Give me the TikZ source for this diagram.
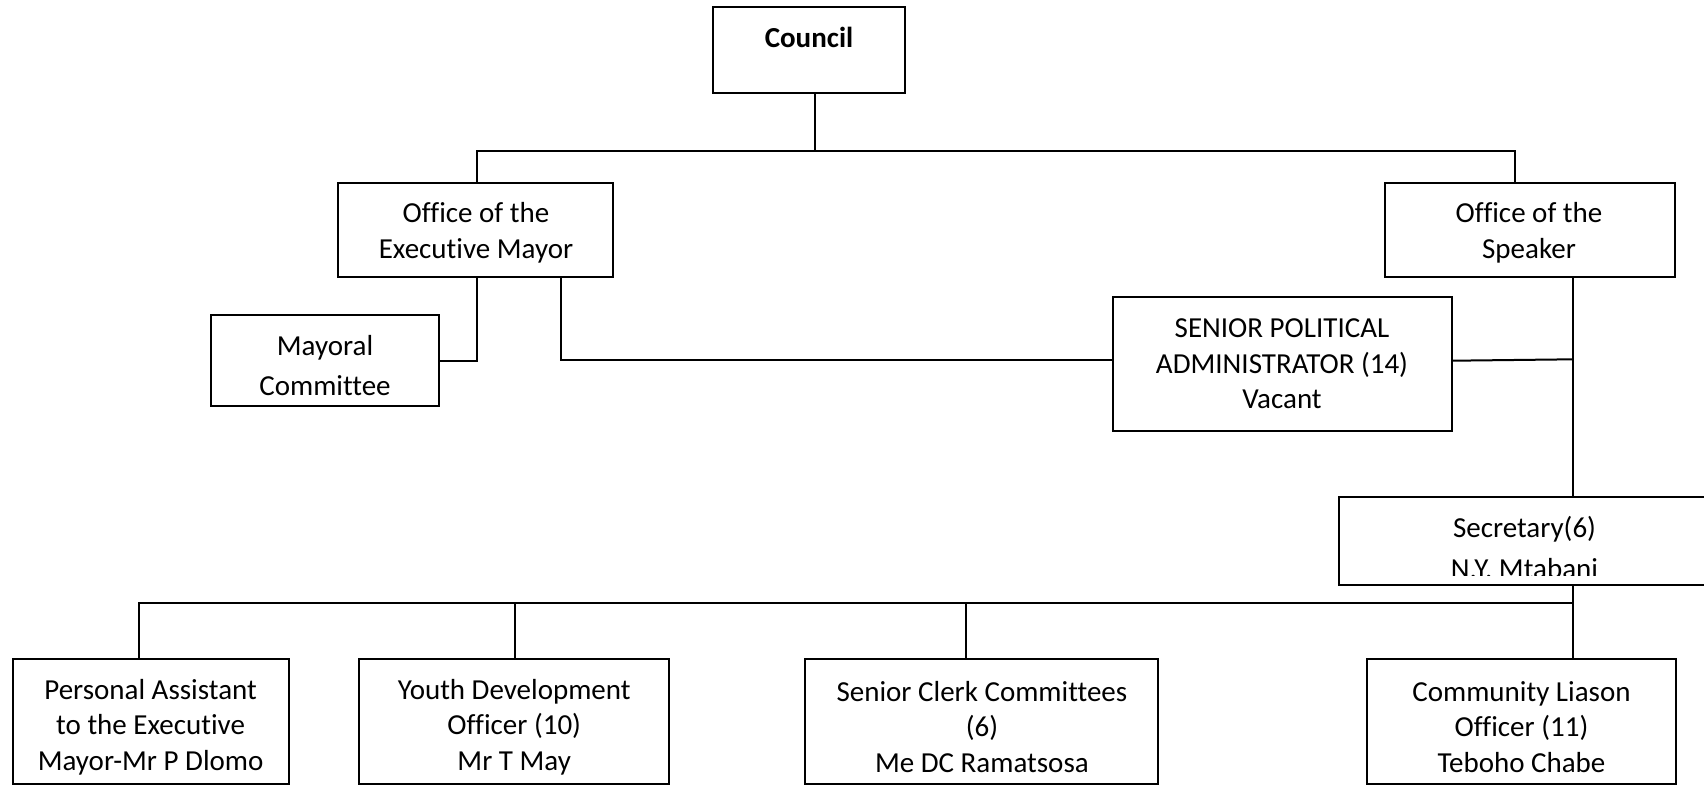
\documentclass[tikz,border=0pt]{standalone}
\usepackage{fontspec}
\setmainfont{Carlito}[Ligatures={NoCommon}]
\usetikzlibrary{calc}
\tikzset{
  box/.style={draw, line width=2pt, fill=white, inner sep=0pt, minimum width=#1},
  txt/.style={inner sep=0pt, align=center, font=\fontsize{29}{35.5}\selectfont},
  link/.style={line width=2pt}
}
\begin{document}
\begin{tikzpicture}[x=1pt, y=-1pt]
  \fill[white] (0,0) rectangle (1704,785);
  \useasboundingbox (0,0) rectangle (1704,785);

  % boxes
  \node[box=192.6, minimum height=86]    (council)   at (809,49.7) {};
  \node[box=275,   minimum height=94]    (mayor)     at (475.8,229.7) {};
  \node[box=290.3, minimum height=94]    (speaker)   at (1530.2,229.7) {};
  \node[box=228.6, minimum height=90.7]  (mayoral)   at (325,360.3) {};
  \node[box=339,   minimum height=134.7] (spa)       at (1282.3,364) {};
  \node[box=371,   minimum height=88]    (secretary) at (1524.5,541) {};
  \node[box=275.8, minimum height=124.7] (pa)        at (150.6,721.6) {};
  \node[box=310.4, minimum height=124.7] (youth)     at (514.2,721.6) {};
  \node[box=353.1, minimum height=124.7] (clerk)     at (981.9,721.6) {};
  \node[box=308.4, minimum height=124.7] (community) at (1521.5,721.6) {};

  % texts
  \node[txt, font=\fontsize{29}{35.5}\selectfont\bfseries] (council-t) at (809,37) {Council};
  \node[txt] (mayor-t)     at (476,232.7)  {Office of the\\Executive Mayor};
  \node[txt] (speaker-t)   at (1529,232.7) {Office of the\\Speaker};
  \node[txt, font=\fontsize{29}{39.5}\selectfont] (mayoral-t) at (325,365.7) {Mayoral\\Committee};
  \node[txt] (spa-t)       at (1282,364)   {SENIOR POLITICAL\\ADMINISTRATOR (14)\\Vacant};
  \node[txt] (pa-t)        at (150.6,727)  {Personal Assistant\\to the Executive\\Mayor-Mr P Dlomo};
  \node[txt] (youth-t)     at (514.2,727)  {Youth Development\\Officer (10)\\Mr T May};
  \node[txt] (clerk-t)     at (981.9,727)  {Senior Clerk Committees\\(6)\\Me DC Ramatsosa};
  \node[txt] (community-t) at (1521.5,727) {Community Liason\\Officer (11)\\Teboho Chabe};
  \node[txt, anchor=base] (secretary-t) at (1524.5,537.3) {Secretary(6)};
  \begin{scope}
    \clip (1339,497) rectangle (1710,575);
    \node[txt, anchor=base] (secretary-n) at (1524.5,578) {N.Y. Mtabani};
  \end{scope}

  % helper columns and rows for the connectors
  \coordinate (cx)   at (815.3,0);
  \coordinate (top)  at (0,151);
  \coordinate (mx)   at (476.7,0);
  \coordinate (sx)   at (1515,0);
  \coordinate (m2x)  at (561,0);
  \coordinate (rx)   at (1573.3,0);
  \coordinate (bus)  at (0,603.3);
  \coordinate (pax)  at (139,0);
  \coordinate (yx)   at (515,0);
  \coordinate (clx)  at (966,0);

  % connectors
  \draw[link] (council.south -| cx) -- (top -| cx);
  \draw[link] (mayor.north -| mx) |- (top -| sx) -- (speaker.north -| sx);
  \draw[link] (mayor.south -| mx) |- ($(mayoral.east)+(0,0.4)$);
  \draw[link] (mayor.south -| m2x) |- ($(spa.west)+(0,-4.5)$);
  \draw[link] ($(spa.east)+(0,-3.3)$) -- ($(rx)+(0,359.3)$);
  \draw[link] (speaker.south -| rx) -- (secretary.north -| rx);
  \draw[link] (secretary.south -| rx) -- (community.north -| rx);
  \draw[link] (pa.north -| pax) |- (bus -| rx);
  \draw[link] (bus -| yx) -- (youth.north -| yx);
  \draw[link] (bus -| clx) -- (clerk.north -| clx);
\end{tikzpicture}
\end{document}
